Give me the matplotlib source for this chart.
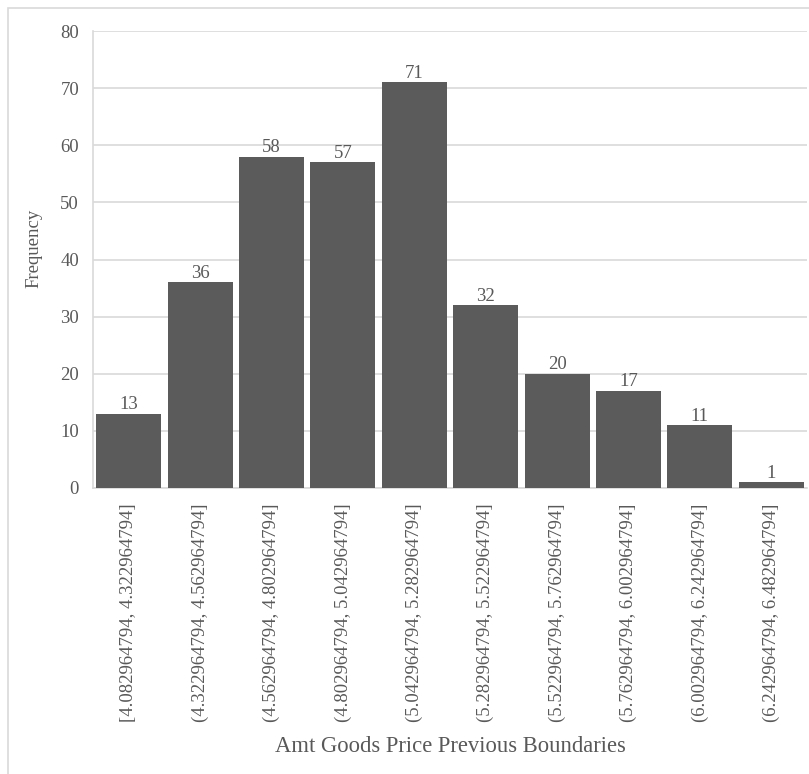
import matplotlib.pyplot as plt
from matplotlib.patches import Rectangle

# histogram bins and counts
bins = [
    "[4.082964794, 4.322964794]",
    "(4.322964794, 4.562964794]",
    "(4.562964794, 4.802964794]",
    "(4.802964794, 5.042964794]",
    "(5.042964794, 5.282964794]",
    "(5.282964794, 5.522964794]",
    "(5.522964794, 5.762964794]",
    "(5.762964794, 6.002964794]",
    "(6.002964794, 6.242964794]",
    "(6.242964794, 6.482964794]",
]
counts = [13, 36, 58, 57, 71, 32, 20, 17, 11, 1]
yticks = [0, 10, 20, 30, 40, 50, 60, 70, 80]

plt.rcParams['font.family'] = ['Liberation Serif', 'DejaVu Serif']
txt = '#595959'
grid = '#d9d9d9'

fig = plt.figure(figsize=(8.09, 7.74), dpi=100)
# chart border
fig.patches.append(Rectangle((8 / 809, -0.01), 1.0, 1 - 8 / 774 + 0.01,
                             transform=fig.transFigure, fill=False,
                             edgecolor=grid, linewidth=1.2))

ax = fig.add_axes([93 / 809, 1 - 488 / 774, 714 / 809, 457 / 774])
x = list(range(len(bins)))
ax.bar(x, counts, width=0.91, color='#5b5b5b', zorder=3)
for xi, c in zip(x, counts):
    ax.text(xi, c + 0.1, str(c), ha='center', va='bottom',
            fontsize=13.5, color=txt)

ax.set_xlim(-0.5, len(bins) - 0.5)
ax.set_ylim(0, 80)
ax.set_yticks(yticks)
ax.yaxis.grid(True, color=grid, linewidth=1.2, zorder=0)
ax.tick_params(axis='both', length=0, colors=txt, labelsize=13.5)
ax.tick_params(axis='y', pad=10)
ax.set_xticks(x)
ax.set_xticklabels(bins, rotation=90, fontsize=13.5)
ax.tick_params(axis='x', pad=11)
for s in ['top', 'right']:
    ax.spines[s].set_visible(False)
for s in ['left', 'bottom']:
    ax.spines[s].set_color(grid)
    ax.spines[s].set_linewidth(1.2)

ax.set_ylabel('Frequency', fontsize=13.5, color=txt)
ax.yaxis.set_label_coords(-0.0714, 0.525)
ax.set_xlabel('Amt Goods Price Previous Boundaries', fontsize=16.3,
              color=txt, labelpad=10)

fig.savefig('out.png', dpi=100)
